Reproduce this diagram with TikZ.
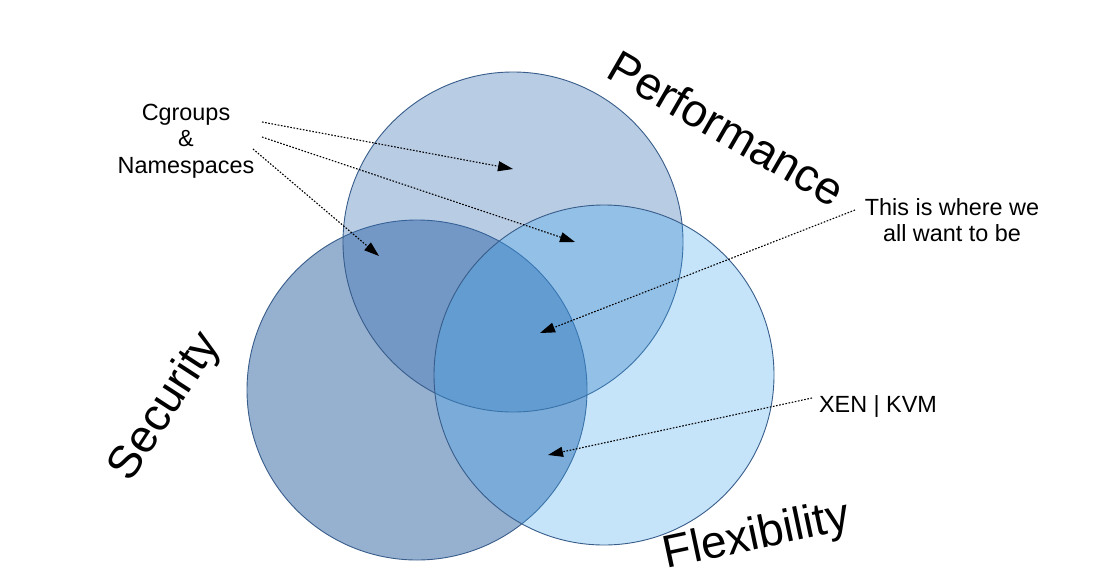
\documentclass[tikz,border=0pt]{standalone}
\usepackage{fontspec}
\setmainfont{Liberation Sans}
\usetikzlibrary{arrows.meta}
\definecolor{secfill}{RGB}{80,123,177}
\definecolor{perffill}{RGB}{52,109,178}
\definecolor{flexfill}{RGB}{62,165,238}
\definecolor{setline}{HTML}{385D8A}

\begin{document}
\begin{tikzpicture}[x=1pt, y=-1pt,
  set/.style={circle, draw=setline, line width=0.9pt, minimum size=340pt, inner sep=0pt},
  big/.style={font=\fontsize{46}{52}\selectfont, inner sep=0pt},
  note/.style={font=\fontsize{23.4}{26.5}\selectfont, align=center, inner sep=0pt},
  pointer/.style={-{Triangle[length=15pt, width=10pt]}, line width=1.1pt, dash pattern=on 1.6pt off 1.6pt}]
\useasboundingbox (0,0) rectangle (1099,578);
% the three sets
\node[set, fill=secfill, fill opacity=0.6] (sec) at (417,390) {};
\node[set, fill=perffill, fill opacity=0.35] (perf) at (513,242) {};
\node[set, fill=flexfill, fill opacity=0.3] (flex) at (604,375) {};
% set names
\node[big, rotate=-30] (perflbl) at (727,128) {Performance};
\node[big, rotate=57] (seclbl) at (166,407) {Security};
\node[big, rotate=12] (flexlbl) at (757,537) {Flexibility};
% notes
\node[note] (cgroups) at (186,141) {Cgroups\\\&\\Namespaces};
\node[note] (target) at (952,220) {This is where we\\all want to be};
\node[note] (xenkvm) at (878,406) {XEN | KVM};
% arrow ends
\coordinate (cgA) at (262,122);
\coordinate (cgB) at (262,137);
\coordinate (cgC) at (253,149);
\coordinate (tgt) at (855,210);
\coordinate (hyp) at (812,398);
\coordinate (inPerf) at (513,169);
\coordinate (inPerfFlex) at (575,242);
\coordinate (inSecPerf) at (379,256);
\coordinate (inAll) at (540,333);
\coordinate (inSecFlex) at (548,455);
\draw[pointer] (cgA) -- (inPerf);
\draw[pointer] (cgB) -- (inPerfFlex);
\draw[pointer] (cgC) -- (inSecPerf);
\draw[pointer] (tgt) -- (inAll);
\draw[pointer] (hyp) -- (inSecFlex);
\end{tikzpicture}
\end{document}
